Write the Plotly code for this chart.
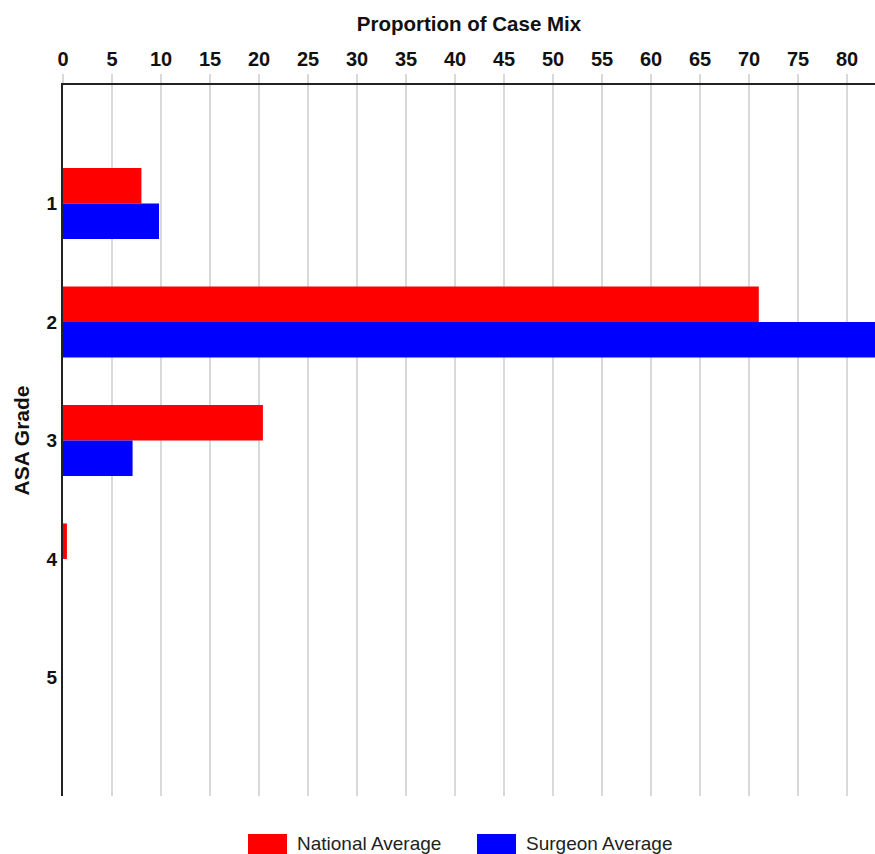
import plotly.graph_objects as go

grades = [1, 2, 3, 4, 5]
grade_labels = ["1", "2", "3", "4", "5"]
national = [8.0, 71.0, 20.4, 0.4, 0.0]
surgeon = [9.8, 84.0, 7.1, 0.0, 0.0]
x_ticks = list(range(0, 85, 5))

W, H = 875, 854
ML, MR, MT = 63, 0, 85
MB = H - 796
plot_h = H - MT - MB
plot_w = W - ML - MR

def py(px):  # pixel y (from top) -> paper y
    return (H - MB - px) / plot_h

def px_x(px):  # pixel x -> paper x
    return (px - ML) / plot_w

fig = go.Figure()
fig.add_trace(go.Bar(y=grades, x=national, orientation="h", name="National Average",
                     marker=dict(color="#ff0000", line=dict(width=0))))
fig.add_trace(go.Bar(y=grades, x=surgeon, orientation="h", name="Surgeon Average",
                     marker=dict(color="#0000ff", line=dict(width=0))))

font_family = "Liberation Sans, Arial, sans-serif"

fig.update_layout(
    width=W, height=H,
    margin=dict(l=ML, r=MR, t=MT, b=MB, pad=0),
    paper_bgcolor="white", plot_bgcolor="white",
    barmode="group", bargap=0.4, bargroupgap=0,
    showlegend=False,
    font=dict(family=font_family, color="#000000"),
    xaxis=dict(
        side="top", range=[0, plot_w / 9.8],
        tickvals=x_ticks, ticktext=[str(v) for v in x_ticks],
        tickfont=dict(size=20, weight="bold", color="#111111"),
        showgrid=True, gridcolor="#d9d9d9", gridwidth=2,
        ticks="outside", ticklen=9, tickcolor="#d9d9d9", tickwidth=2,
        showline=True, linecolor="#222222", linewidth=2,
        zeroline=False,
        title=dict(text="Proportion of Case Mix", standoff=11,
                   font=dict(size=20.5, weight="bold", color="#111111")),
    ),
    yaxis=dict(
        range=[6, 0], tickvals=grades, ticktext=grade_labels,
        tickfont=dict(size=19, weight="bold", color="#111111"),
        showgrid=False, zeroline=False,
        showline=True, linecolor="#222222", linewidth=2,
        ticks="", ticklabelstandoff=0,
        title=dict(text="ASA Grade", standoff=11,
                   font=dict(size=21, weight="bold", color="#111111")),
    ),
)

legend_items = [("National Average", "#ff0000", 248), ("Surgeon Average", "#0000ff", 477)]
for name, color, x0 in legend_items:
    fig.add_shape(type="rect", xref="paper", yref="paper",
                  x0=px_x(x0), x1=px_x(x0 + 39), y0=py(834), y1=py(856),
                  fillcolor=color, line=dict(width=0))
    fig.add_annotation(xref="paper", yref="paper", x=px_x(x0 + 47), y=py(843),
                       text=name, showarrow=False, xanchor="left", yanchor="middle",
                       font=dict(size=19, color="#222222"))

fig.write_html(
    "out.html",
    config={"displayModeBar": False},
    post_script="document.body.style.margin='0';"
                "document.documentElement.style.overflow='hidden';"
                "document.body.style.overflow='hidden';",
)
